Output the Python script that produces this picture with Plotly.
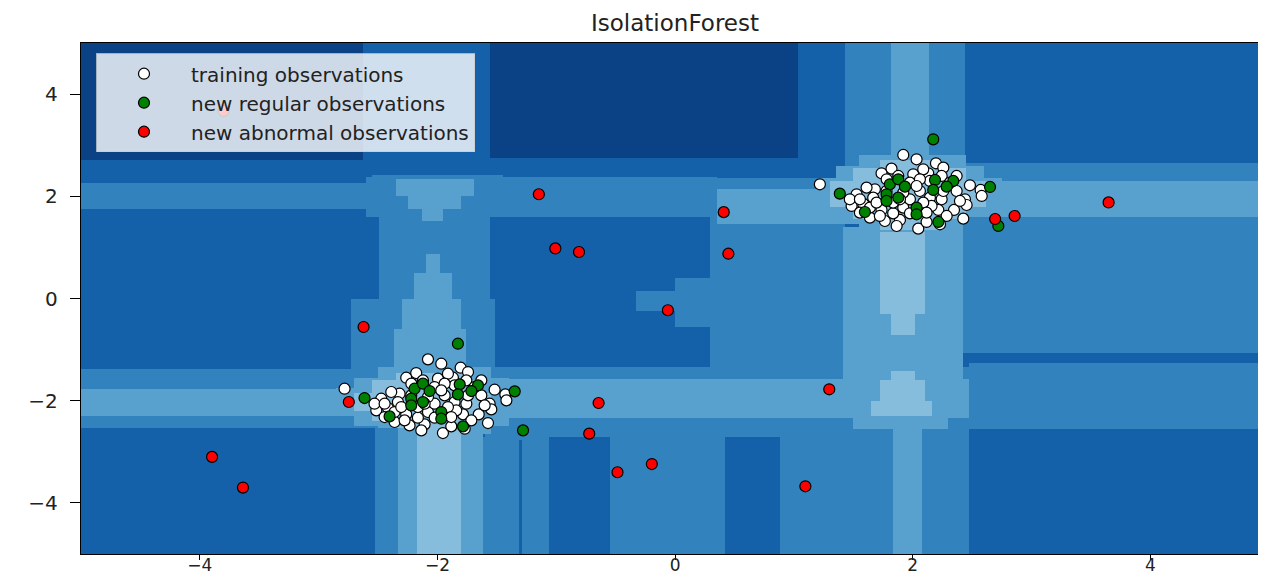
import plotly.graph_objects as go

# ---------------- data ----------------
cluster_cx = [2.0, -2.0]
cluster_cy = [2.0, -2.0]

# training observations: offsets from each cluster centre (same offsets in both clusters)
train_dx = [-0.782, -0.080, 0.032, 0.195, 0.257, -0.179, -0.263, 0.004, 0.130, 0.243,
            0.481, 0.571, 0.580, -0.473, -0.319, -0.389, 0.439, 0.453, 0.347, 0.425,
            0.215, 0.046, -0.108, -0.235, -0.361, -0.263, -0.417, -0.515, -0.080, -0.024,
            0.144, 0.060, -0.080, 0.116, 0.144, 0.369, 0.313, -0.024, 0.088, -0.333,
            -0.277, -0.165, -0.024, 0.285, 0.158, 0.243, -0.165, -0.445, -0.530, -0.361,
            -0.220, -0.122, 0.060, 0.369, -0.305, 0.088, -0.108, -0.221, 0.257, 0.116,
            -0.136, 0.229, 0.397, -0.445, 0.032]
train_dy = [0.235, 0.809, 0.724, 0.646, 0.561, 0.541, 0.450, 0.431, 0.450, 0.398,
            0.215, 0.124, 0.007, 0.039, 0.137, 0.170, -0.059, -0.170, -0.267, -0.437,
            -0.267, -0.633, -0.463, -0.483, -0.417, -0.267, -0.144, -0.189, -0.222, -0.059,
            -0.026, 0.104, 0.072, -0.502, 0.300, 0.104, 0.267, 0.267, 0.528, -0.026,
            -0.385, -0.333, -0.333, -0.385, -0.189, -0.059, -0.124, -0.320, -0.059, -0.222,
            0.333, 0.398, 0.333, 0.398, -0.124, -0.124, -0.059, 0.104, 0.104, -0.320,
            -0.581, -0.548, -0.091, -0.059, 0.202]

# new regular observations: offsets from each cluster centre
test_dx = [0.172, -0.614, 0.650, 0.720, -0.193, -0.122, -0.066, 0.187, 0.341, 0.285,
           0.172, -0.221, -0.122, -0.221, 0.032, 0.032, -0.403, 0.215]
test_dy = [1.115, 0.052, 0.183, -0.580, 0.235, 0.333, 0.189, 0.320, 0.300, 0.189,
           0.124, 0.039, -0.026, -0.091, -0.222, -0.352, -0.307, -0.502]

# new abnormal observations
outlier_x = [-1.147, -1.008, -0.809, -3.800, 0.409, 0.448, 3.648, 2.693, 2.857, -0.061,
             -2.622, -2.746, -3.897, -3.637, -0.644, -0.723, -0.485, -0.196, 1.297, 1.096]
outlier_y = [2.040, 0.980, 0.910, 3.670, 1.690, 0.877, 1.880, 1.556, 1.614, -0.230,
             -0.558, -2.025, -3.100, -3.700, -2.045, -2.645, -3.400, -3.240, -1.777, -3.675]

# decision-function regions (painted in order, later ones on top), value = contour level
reg_x0 = [-5.00, -1.56, 1.43, 1.82,
          -5.00, -2.60, 0.29, 0.35, 1.43, 2.44,
          -2.55, -2.49, -2.73, -2.35, -2.25, -2.13, -2.10, -2.20, -2.30, -2.37,
          -5.00, -5.00, -5.00,
          -1.60, -1.60,
          -2.85, -2.70, -2.50, -2.70, -2.55, -2.35,
          -2.53, -2.33, -2.17, -1.80, -1.62, -1.31, -0.55, 0.88, 1.835, 2.074,
          0.29, 0.00, -0.33,
          1.41, 1.50, 1.82, 1.72, 1.65, 1.72, 1.82,
          1.20, 1.35, 1.55, 1.30, 1.50, 1.72,
          2.42, 2.47, 2.61]
reg_x1 = [-2.63, 1.03, 2.44, 2.14,
          -2.60, 0.35, 1.43, 1.43, 5.00, 5.00,
          -1.45, -1.56, -1.52, -1.69, -1.80, -1.95, -1.98, -1.88, -1.80, -1.76,
          -2.50, -2.50, -2.50,
          2.47, 2.48,
          -1.30, -1.40, -1.55, -1.55, -1.65, -1.75,
          -2.33, -2.17, -1.80, -1.62, -1.06, -1.29, 0.42, 1.835, 2.074, 2.47,
          1.41, 0.29, 0.00,
          2.42, 2.30, 2.02, 2.10, 2.16, 2.10, 2.02,
          2.75, 2.60, 2.45, 2.62, 2.45, 2.25,
          5.00, 5.00, 5.00]
reg_y0 = [2.72, 2.75, 2.30, 2.30,
          1.745, 1.60, 1.20, 1.45, 1.595, 2.30,
          1.60, 0.00, -1.40, 2.00, 1.75, 1.52, 0.50, 0.00, -0.60, -1.50,
          -1.78, -2.53, -2.30,
          -2.72, -2.33,
          -2.30, -2.50, -2.65, -2.20, -2.40, -2.55,
          -5.00, -5.00, -5.00, -5.00, -5.00, -5.00, -5.00, -5.00, -5.00, -5.00,
          -1.35, -0.55, -0.25,
          -1.58, -2.55, -1.60, -2.00, -2.30, -0.30, -0.72,
          1.70, 1.45, 1.30, 1.80, 1.55, 1.35,
          -1.06, -2.56, -1.26]
reg_y1 = [5.00, 5.00, 5.00, 5.00,
          2.27, 2.37, 2.36, 2.14, 2.30, 2.66,
          2.42, 1.60, 0.00, 2.34, 2.00, 1.75, 0.87, 0.50, 0.00, -0.60,
          -1.38, -2.30, -1.78,
          -1.35, -1.58,
          -1.75, -1.55, -1.35, -1.85, -1.60, -1.45,
          -2.53, -2.53, -2.45, -2.53, -2.72, -2.76, -2.72, -2.72, -2.50, -2.56,
          1.20, 0.40, 0.15,
          1.40, -2.33, -1.42, -1.60, -2.00, 1.35, -0.30,
          2.35, 2.60, 2.80, 2.30, 2.55, 2.72,
          1.595, -1.26, -1.06]
reg_level = [0, 0, 2, 3,
             2, 2, 2, 3, 3, 2,
             2, 2, 2, 3, 3, 3, 3, 3, 3, 3,
             2, 2, 3,
             2, 3,
             3, 3, 3, 4, 4, 4,
             2, 3, 4, 3, 2, 1, 2, 2, 3, 2,
             2, 2, 2,
             3, 3, 4, 4, 4, 4, 4,
             3, 3, 3, 4, 4, 4,
             2, 2, 1]
base_level = 1
level_colors = ["#0a4285", "#1561a9", "#3282be", "#58a0ce", "#86bcdc"]

series_names = ["training observations", "new regular observations", "new abnormal observations"]
series_fill = ["white", "green", "red"]

# ---------------- background grid from regions ----------------
xe = sorted(set([-5.0, 5.0] + reg_x0 + reg_x1))
ye = sorted(set([-5.0, 5.0] + reg_y0 + reg_y1))
z = []
for j in range(len(ye) - 1):
    yc = 0.5 * (ye[j] + ye[j + 1])
    row = []
    for i in range(len(xe) - 1):
        xc = 0.5 * (xe[i] + xe[i + 1])
        lev = base_level
        for k in range(len(reg_level)):
            if reg_x0[k] <= xc <= reg_x1[k] and reg_y0[k] <= yc <= reg_y1[k]:
                lev = reg_level[k]
        row.append(lev)
    z.append(row)

n = len(level_colors)
cscale = []
for i, c in enumerate(level_colors):
    cscale.append([i / n, c])
    cscale.append([(i + 1) / n, c])

fig = go.Figure()
fig.add_trace(go.Heatmap(x=xe, y=ye, z=z, colorscale=cscale, zmin=-0.5, zmax=n - 0.5,
                         showscale=False, hoverinfo="skip", zsmooth=False, showlegend=False))

# points
train_x = [cx + d for cx in cluster_cx for d in train_dx]
train_y = [cy + d for cy in cluster_cy for d in train_dy]
test_x = [cx + d for cx in cluster_cx for d in test_dx]
test_y = [cy + d for cy in cluster_cy for d in test_dy]
pts = [(train_x, train_y), (test_x, test_y), (outlier_x, outlier_y)]
for (px, py), name, col in zip(pts, series_names, series_fill):
    fig.add_trace(go.Scatter(x=px, y=py, mode="markers", name=name,
                             marker=dict(size=11, color=col, line=dict(color="black", width=1.2))))

# the page body has an 8px margin on every side; size the figure so nothing overflows
page_off = 8
fig_w, fig_h = 1266 - 2 * page_off, 585 - 2 * page_off
plot_left, plot_top, plot_bottom = 81, 43, 554
x_per_unit = 118.75
x_zero_px = 675.5
x_right = (page_off + fig_w - x_zero_px) / x_per_unit

font_family = "DejaVu Sans"
fig.update_layout(
    width=fig_w, height=fig_h,
    margin=dict(l=plot_left - page_off, r=0, t=plot_top - page_off,
                b=page_off + fig_h - plot_bottom, pad=0),
    paper_bgcolor="white", plot_bgcolor="white",
    title=dict(text="IsolationForest", x=(675 - page_off) / fig_w, xanchor="center",
               y=1 - (23 - page_off) / fig_h, yanchor="middle",
               font=dict(family=font_family, size=23, color="#222222")),
    showlegend=True,
    legend=dict(x=(96 - plot_left) / (page_off + fig_w - plot_left), y=0.98,
                xanchor="left", yanchor="top",
                bgcolor="rgba(255,255,255,0.8)", bordercolor="rgba(204,204,204,0.8)",
                borderwidth=1, itemwidth=84,
                font=dict(family=font_family, size=20, color="#222222")),
    font=dict(family=font_family, color="#222222"),
)
fig.update_xaxes(range=[-5, x_right], tickvals=[-4, -2, 0, 2, 4], ticks="outside", ticklen=5,
                 tickwidth=1.2, tickcolor="black", showline=True, linecolor="black", linewidth=1.3,
                 mirror=True, showgrid=False, zeroline=False, automargin=False,
                 ticklabelstandoff=-10,
                 tickfont=dict(family=font_family, size=17, color="#222222"))
fig.update_yaxes(range=[-5, 5], tickvals=[-4, -2, 0, 2, 4], ticks="outside", ticklen=10,
                 tickwidth=1.2, tickcolor="black", showline=True, linecolor="black", linewidth=1.3,
                 mirror=False, showgrid=False, zeroline=False, automargin=False,
                 ticklabelstandoff=8,
                 tickfont=dict(family=font_family, size=20, color="#222222"))

fig.write_html("out.html")
